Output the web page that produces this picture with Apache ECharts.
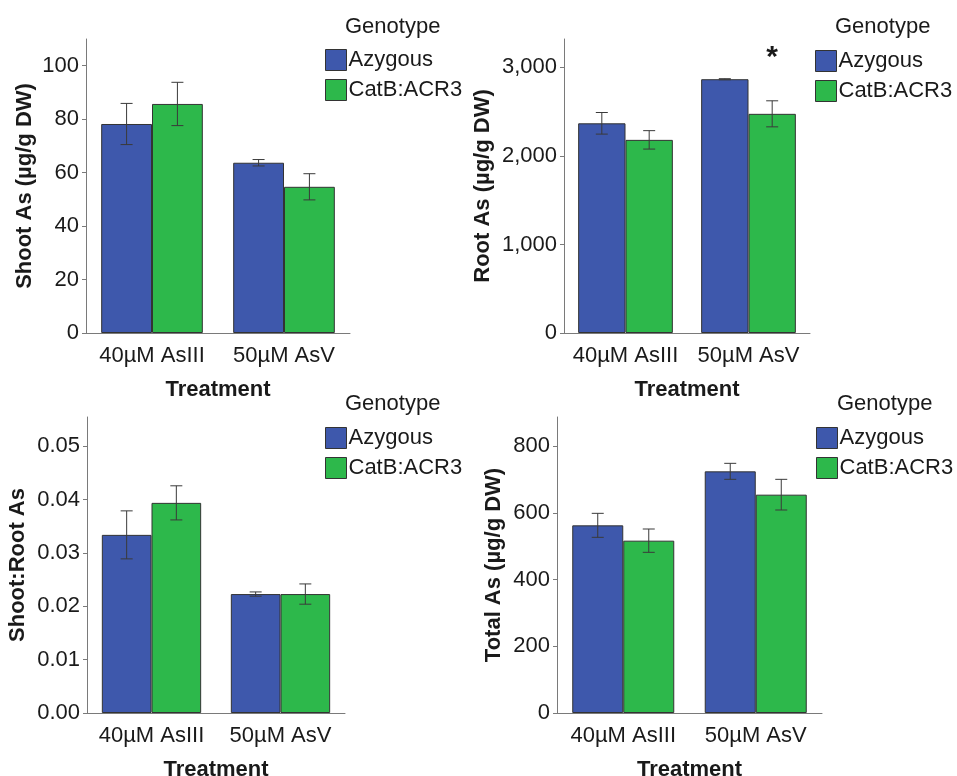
<!DOCTYPE html>
<html>
<head>
<meta charset="utf-8">
<script src="https://cdn.jsdelivr.net/npm/echarts@6/dist/echarts.min.js"></script>
<style>
html,body{margin:0;padding:0;background:#fff;}
#chart{width:957px;height:776px;}
</style>
</head>
<body>
<div id="chart"></div>
<script>
// ---- data ----
const categories = ['40µM AsIII', '50µM AsV'];
const seriesNames = ['Azygous', 'CatB:ACR3'];

const shootAzy = [78.2, 63.7];
const shootAzyErr = [7.7, 1.2];
const shootCat = [85.7, 54.7];
const shootCatErr = [8.1, 4.9];

const rootAzy = [2368, 2866];
const rootAzyErr = [122, 6];
const rootCat = [2181, 2475];
const rootCatErr = [104, 147];
const rootCatSig = ['', '*'];
const rootSigLevel = 3110;

const ratioAzy = [0.0334, 0.0223];
const ratioAzyErr = [0.0045, 0.0004];
const ratioCat = [0.0394, 0.0223];
const ratioCatErr = [0.0032, 0.0019];

const totalAzy = [563, 725];
const totalAzyErr = [36, 24];
const totalCat = [517, 655];
const totalCatErr = [35, 46];

const shootTicks = [0, 20, 40, 60, 80, 100];
const rootTicks = [0, 1000, 2000, 3000];
const ratioTicks = [0, 0.01, 0.02, 0.03, 0.04, 0.05];
const totalTicks = [0, 200, 400, 600, 800];

const yTitles = ['Shoot As (µg/g DW)', 'Root As (µg/g DW)', 'Shoot:Root As', 'Total As (µg/g DW)'];
const xTitle = 'Treatment';
const legendTitle = 'Genotype';

// ---- style ----
const BLUE = '#3E58AC';
const GREEN = '#2DB84B';
const GAP = 0.23;
const FONT = 'Liberation Sans, Arial, sans-serif';
const TXT = '#1a1a1a';
const AXIS = '#7a7a7a';

const panels = [
  {grid: {left: 86, top: 39, width: 264, height: 294}, max: 110, ticks: shootTicks, fmt: v => String(v),
   azy: shootAzy, azyErr: shootAzyErr, cat: shootCat, catErr: shootCatErr, nameGap: 50,
   legend: {left: 325, top: 49}, title: {x: 345, y: 28}},
  {grid: {left: 564, top: 39, width: 246, height: 294}, max: 3320, ticks: rootTicks, fmt: v => v.toLocaleString('en-US'),
   azy: rootAzy, azyErr: rootAzyErr, cat: rootCat, catErr: rootCatErr, nameGap: 70, sig: rootCatSig,
   legend: {left: 815, top: 50}, title: {x: 835, y: 28}},
  {grid: {left: 87, top: 417, width: 258, height: 296}, max: 0.0555, ticks: ratioTicks, fmt: v => v.toFixed(2),
   azy: ratioAzy, azyErr: ratioAzyErr, cat: ratioCat, catErr: ratioCatErr, nameGap: 58,
   legend: {left: 325, top: 427}, title: {x: 345, y: 405}},
  {grid: {left: 557, top: 417, width: 265, height: 296}, max: 888, ticks: totalTicks, fmt: v => String(v),
   azy: totalAzy, azyErr: totalAzyErr, cat: totalCat, catErr: totalCatErr, nameGap: 52,
   legend: {left: 816, top: 427}, title: {x: 837, y: 405}}
];

const grids = [], xAxes = [], yAxes = [], series = [], legends = [], graphics = [];

function errRender(sign, sigArr, sigLevel) {
  return function (params, api) {
    const idx = api.value(0), mean = api.value(1), err = api.value(2);
    const band = api.size([1, 0])[0];
    const c = api.coord([idx, mean]);
    const x = c[0] + sign * band * (1 - GAP) / 4;
    const yt = api.coord([idx, mean + err])[1];
    const yb = api.coord([idx, mean - err])[1];
    const cap = 6;
    const st = {stroke: '#3a3a3a', lineWidth: 1};
    const children = [
      {type: 'line', shape: {x1: x, y1: yt, x2: x, y2: yb}, style: st},
      {type: 'line', shape: {x1: x - cap, y1: yt, x2: x + cap, y2: yt}, style: st},
      {type: 'line', shape: {x1: x - cap, y1: yb, x2: x + cap, y2: yb}, style: st}
    ];
    if (sigArr && sigArr[idx]) {
      const ys = api.coord([idx, sigLevel])[1];
      children.push({type: 'text', style: {x: x, y: ys, text: sigArr[idx], font: 'bold 30px ' + FONT,
        fill: TXT, align: 'center', verticalAlign: 'middle'}});
    }
    return {type: 'group', children: children};
  };
}

panels.forEach((p, i) => {
  grids.push(Object.assign({containLabel: false, outerBoundsMode: 'none'}, p.grid));
  xAxes.push({
    type: 'category', gridIndex: i, data: categories,
    axisLine: {lineStyle: {color: AXIS, width: 1}},
    axisTick: {alignWithLabel: true, interval: 0, length: 5, lineStyle: {color: AXIS}},
    axisLabel: {interval: 0, fontSize: 22, color: TXT, fontFamily: FONT, margin: 12, hideOverlap: false},
    name: xTitle, nameLocation: 'middle', nameGap: 46,
    nameTextStyle: {fontSize: 22, fontWeight: 'bold', color: TXT, fontFamily: FONT}
  });
  yAxes.push({
    type: 'value', gridIndex: i, min: 0, max: p.max,
    axisLine: {show: true, lineStyle: {color: AXIS, width: 1}},
    axisTick: {show: true, length: 4, lineStyle: {color: AXIS}, customValues: p.ticks},
    axisLabel: {fontSize: 22, color: TXT, fontFamily: FONT, margin: 7, customValues: p.ticks,
      formatter: p.fmt},
    splitLine: {show: false},
    name: yTitles[i], nameLocation: 'middle', nameGap: p.nameGap,
    nameTextStyle: {fontSize: 22, fontWeight: 'bold', color: TXT, fontFamily: FONT}
  });
  const common = {type: 'bar', xAxisIndex: i, yAxisIndex: i, barGap: '0%', barCategoryGap: (GAP * 100) + '%'};
  series.push(Object.assign({}, common, {name: seriesNames[0], data: p.azy,
    itemStyle: {color: BLUE, borderColor: '#333', borderWidth: 1}}));
  series.push(Object.assign({}, common, {name: seriesNames[1], data: p.cat,
    itemStyle: {color: GREEN, borderColor: '#333', borderWidth: 1}}));
  series.push({type: 'custom', xAxisIndex: i, yAxisIndex: i, z: 10, silent: true,
    renderItem: errRender(-1), encode: {x: 0, y: 1},
    data: p.azy.map((v, k) => [k, v, p.azyErr[k]])});
  series.push({type: 'custom', xAxisIndex: i, yAxisIndex: i, z: 10, silent: true,
    renderItem: errRender(1, p.sig, rootSigLevel), encode: {x: 0, y: 1},
    data: p.cat.map((v, k) => [k, v, p.catErr[k]])});
  legends.push({
    orient: 'vertical', left: p.legend.left, top: p.legend.top, padding: 0,
    itemWidth: 21, itemHeight: 21, itemGap: 8, icon: 'rect', selectedMode: false,
    data: [
      {name: seriesNames[0], itemStyle: {color: BLUE, borderColor: '#333', borderWidth: 1}},
      {name: seriesNames[1], itemStyle: {color: GREEN, borderColor: '#333', borderWidth: 1}}
    ],
    textStyle: {fontSize: 22, color: TXT, fontFamily: FONT, padding: [0, 0, 0, -3]}
  });
  graphics.push({type: 'text', left: p.title.x, top: p.title.y - 12,
    style: {text: legendTitle, font: '22px ' + FONT, fill: TXT}});
});

const chart = echarts.init(document.getElementById('chart'), null, {renderer: 'canvas'});
chart.setOption({
  animation: false,
  backgroundColor: '#fff',
  grid: grids, xAxis: xAxes, yAxis: yAxes, series: series, legend: legends, graphic: graphics
});
</script>
</body>
</html>
